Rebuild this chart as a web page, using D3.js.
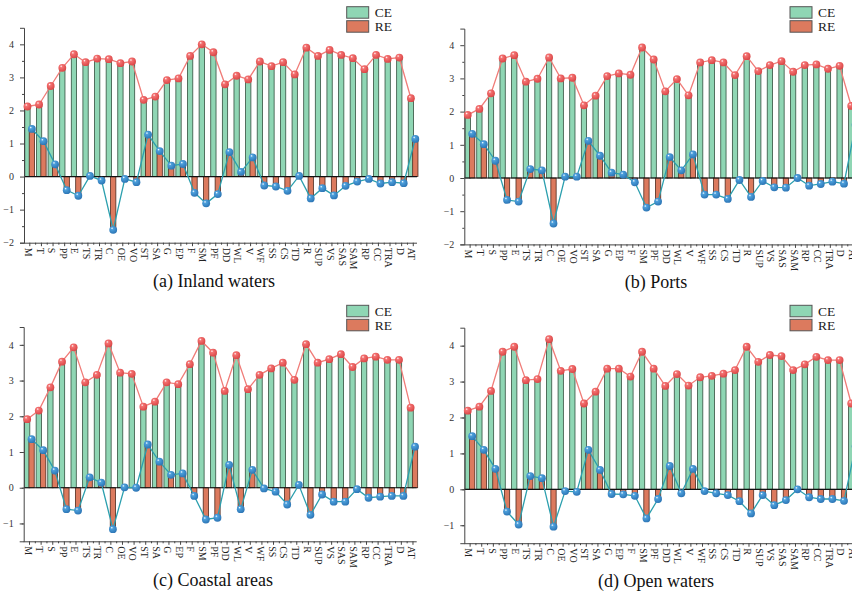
<!DOCTYPE html>
<html><head><meta charset="utf-8">
<script src="https://cdn.jsdelivr.net/npm/d3@7"></script>
<style>
body{margin:0;background:#fff;}
svg{display:block;font-family:"Liberation Serif","Times New Roman",serif;}
</style>
</head><body>
<svg id="chart" width="852" height="596"></svg>
<script>
const categories = ["M","T","S","PP","E","TS","TR","C","OE","VO","ST","SA","G","EP","F","SM","PF","DD","WL","V","WF","SS","CS","TD","R","SUP","VS","SAS","SAM","RP","CC","TRA","D","AT"];

const ceInland = [2.12,2.18,2.74,3.29,3.70,3.46,3.57,3.55,3.43,3.48,2.32,2.42,2.92,2.97,3.65,4.00,3.76,2.79,3.05,2.94,3.48,3.34,3.46,3.09,3.90,3.65,3.83,3.68,3.58,3.25,3.68,3.56,3.60,2.37];
const reInland = [1.44,1.07,0.37,-0.41,-0.58,0.02,-0.12,-1.61,-0.07,-0.17,1.27,0.77,0.33,0.38,-0.49,-0.81,-0.53,0.74,0.14,0.58,-0.27,-0.30,-0.43,0.02,-0.66,-0.35,-0.57,-0.28,-0.15,-0.07,-0.21,-0.17,-0.20,1.14];

const cePorts = [1.90,2.08,2.55,3.60,3.70,2.90,2.99,3.63,3.00,3.02,2.19,2.48,3.07,3.15,3.11,3.93,3.57,2.61,2.98,2.49,3.48,3.55,3.48,3.10,3.67,3.22,3.40,3.52,3.20,3.40,3.42,3.29,3.38,2.17];
const rePorts = [1.33,1.02,0.52,-0.66,-0.71,0.27,0.23,-1.37,0.04,0.04,1.12,0.67,0.16,0.10,-0.13,-0.89,-0.71,0.63,0.23,0.71,-0.50,-0.50,-0.63,-0.06,-0.57,-0.09,-0.28,-0.29,0.00,-0.23,-0.18,-0.11,-0.17,1.6];

const ceCoastal = [1.92,2.16,2.81,3.53,3.93,2.95,3.16,4.04,3.22,3.19,2.27,2.41,2.95,2.90,3.46,4.11,3.78,2.71,3.71,2.76,3.16,3.34,3.50,3.02,4.02,3.50,3.60,3.74,3.38,3.62,3.67,3.58,3.58,2.24];
const reCoastal = [1.36,1.05,0.48,-0.60,-0.64,0.29,0.14,-1.16,0.01,0.00,1.21,0.73,0.36,0.40,-0.23,-0.89,-0.84,0.64,-0.60,0.50,-0.02,-0.11,-0.47,0.08,-0.76,-0.19,-0.39,-0.39,-0.04,-0.28,-0.25,-0.23,-0.23,1.15];

const ceOpen = [2.19,2.30,2.74,3.83,3.97,3.04,3.07,4.18,3.30,3.35,2.39,2.72,3.36,3.36,3.14,3.83,3.36,2.88,3.21,2.89,3.12,3.16,3.22,3.32,3.97,3.55,3.74,3.71,3.32,3.48,3.69,3.60,3.60,2.39];
const reOpen = [1.48,1.10,0.57,-0.62,-0.98,0.37,0.31,-1.04,-0.05,-0.07,1.10,0.54,-0.13,-0.14,-0.18,-0.81,-0.27,0.65,-0.11,0.57,-0.05,-0.11,-0.16,-0.33,-0.67,-0.16,-0.44,-0.30,0.00,-0.22,-0.27,-0.27,-0.32,1.2];

const seriesNames = ["CE","RE"];
const titles = ["(a) Inland waters","(b) Ports","(c) Coastal areas","(d) Open waters"];
const yTicksA = [-2,-1,0,1,2,3,4];
const yTicksC = [-1,0,1,2,3,4];

// layout (positions only)
const layouts = [
  {ce:ceInland, re:reInland, x0:24,   yDom:[-2,4.5],   yRng:[242.7,27.8], ticks:yTicksA, leg:[346.7,6.7], tp:[214,287]},
  {ce:cePorts,  re:rePorts,  x0:464.3,yDom:[-2,4.5],   yRng:[244.4,28.6], ticks:yTicksA, leg:[790,6.7],   tp:[656,288]},
  {ce:ceCoastal,re:reCoastal,x0:23.7, yDom:[-1.5,4.5], yRng:[541.3,327],  ticks:yTicksC, leg:[346.7,305.3],tp:[213,586]},
  {ce:ceOpen,   re:reOpen,   x0:464.3,yDom:[-1.5,4.5], yRng:[543.2,327.7],ticks:yTicksC, leg:[790,305.3], tp:[656,587]}
];

const svg = d3.select("#chart");
const defs = svg.append("defs");
function ball(id, base, dark){
  const g = defs.append("radialGradient").attr("id",id)
    .attr("cx","40%").attr("cy","38%").attr("r","65%").attr("fx","35%").attr("fy","30%");
  g.append("stop").attr("offset","0%").attr("stop-color","#ffffff");
  g.append("stop").attr("offset","25%").attr("stop-color",base);
  g.append("stop").attr("offset","100%").attr("stop-color",dark);
}
ball("ballRed","#f47272","#d94545");
ball("ballBlue","#4da0dc","#2b74b4");

const GREEN="#8fd6b4", RED="#dc7a5e", CELINE="#f07c78", RELINE="#2b9fae";
const step = 11.62, barW = 5.3;

layouts.forEach((L, pi) => {
  const g = svg.append("g");
  const x = d3.scaleBand().domain(categories).range([L.x0, L.x0 + step*categories.length]);
  const y = d3.scaleLinear().domain(L.yDom).range(L.yRng);
  const bw = x.bandwidth();
  const cx = c => x(c) + bw/2;
  const xEnd = L.x0 + 393;

  // bars
  g.selectAll(".ceb").data(categories).join("rect")
    .attr("x", c => cx(c) - 5).attr("width", barW)
    .attr("y", (c,i) => y(Math.max(0, L.ce[i])))
    .attr("height", (c,i) => Math.abs(y(L.ce[i]) - y(0)))
    .attr("fill", GREEN).attr("stroke","#33503f").attr("stroke-width",0.8);
  g.selectAll(".reb").data(categories).join("rect")
    .attr("x", c => cx(c) - 0.6).attr("width", barW)
    .attr("y", (c,i) => y(Math.max(0, L.re[i])))
    .attr("height", (c,i) => Math.abs(y(L.re[i]) - y(0)))
    .attr("fill", RED).attr("stroke","#4d2a1f").attr("stroke-width",0.8);

  // zero line
  g.append("line").attr("x1", L.x0).attr("x2", xEnd).attr("y1", y(0)).attr("y2", y(0))
    .attr("stroke","#111").attr("stroke-width",1.2);

  // y axis
  const ya = g.append("g").attr("transform",`translate(${L.x0},0)`)
    .call(d3.axisLeft(y).tickValues(L.ticks).tickSize(4).tickPadding(6).tickFormat(d3.format("d")));
  ya.select(".domain").attr("stroke","#444");
  ya.selectAll(".tick line").attr("stroke","#444");
  ya.selectAll("text").attr("font-size",10).attr("fill","#333").attr("font-family","Liberation Serif");
  const minorY = d3.range(L.yDom[0]+0.5, L.yDom[1], 1);
  const ym = g.append("g").attr("transform",`translate(${L.x0},0)`)
    .call(d3.axisLeft(y).tickValues(minorY).tickSize(2).tickFormat(""));
  ym.select(".domain").remove();
  ym.selectAll(".tick line").attr("stroke","#444");

  // x axis
  const xa = g.append("g").attr("transform",`translate(0,${L.yRng[0]})`)
    .call(d3.axisBottom(x).tickSize(3.5).tickSizeOuter(0));
  xa.select(".domain").attr("d",`M${L.x0},0.5H${xEnd}`).attr("stroke","#444");
  xa.selectAll(".tick line").attr("stroke","#444");
  xa.selectAll("text").attr("font-size",10).attr("fill","#222").attr("font-family","Liberation Serif")
    .attr("transform","rotate(90)").attr("x",5).attr("y",1.3).attr("dy","0.35em")
    .style("text-anchor","start");
  g.append("g").selectAll("line").data(categories.slice(1)).join("line")
    .attr("x1", c => x(c)).attr("x2", c => x(c))
    .attr("y1", L.yRng[0]).attr("y2", L.yRng[0]+2)
    .attr("stroke","#444");

  // lines
  const ceLine = d3.line().x((d,i) => cx(categories[i]) - 2.35).y(d => y(d));
  const reLine = d3.line().x((d,i) => cx(categories[i]) + 2.05).y(d => y(d));
  g.append("path").datum(L.ce).attr("d", ceLine).attr("fill","none").attr("stroke",CELINE).attr("stroke-width",1.3);
  g.selectAll(".ced").data(L.ce).join("circle")
    .attr("cx",(d,i)=>cx(categories[i]) - 2.35).attr("cy", d=>y(d)).attr("r",3.9)
    .attr("fill","url(#ballRed)");
  g.append("path").datum(L.re).attr("d", reLine).attr("fill","none").attr("stroke",RELINE).attr("stroke-width",1.3);
  g.selectAll(".red").data(L.re).join("circle")
    .attr("cx",(d,i)=>cx(categories[i]) + 2.05).attr("cy", d=>y(d)).attr("r",3.9)
    .attr("fill","url(#ballBlue)");

  // legend
  const lg = g.append("g").attr("transform",`translate(${L.leg[0]},${L.leg[1]})`);
  seriesNames.forEach((s, k) => {
    lg.append("rect").attr("x",0).attr("y",k*14).attr("width",22).attr("height",11.5)
      .attr("fill", k===0?GREEN:RED).attr("stroke","#555").attr("stroke-width",1);
    lg.append("text").attr("x",28).attr("y",k*14+10.5).attr("font-size",13.5).attr("fill","#222").text(s);
  });

  // title
  g.append("text").attr("x",L.tp[0]).attr("y",L.tp[1]).attr("text-anchor","middle")
    .attr("font-size",18).attr("fill","#111").text(titles[pi]);
});
</script>
</body></html>
